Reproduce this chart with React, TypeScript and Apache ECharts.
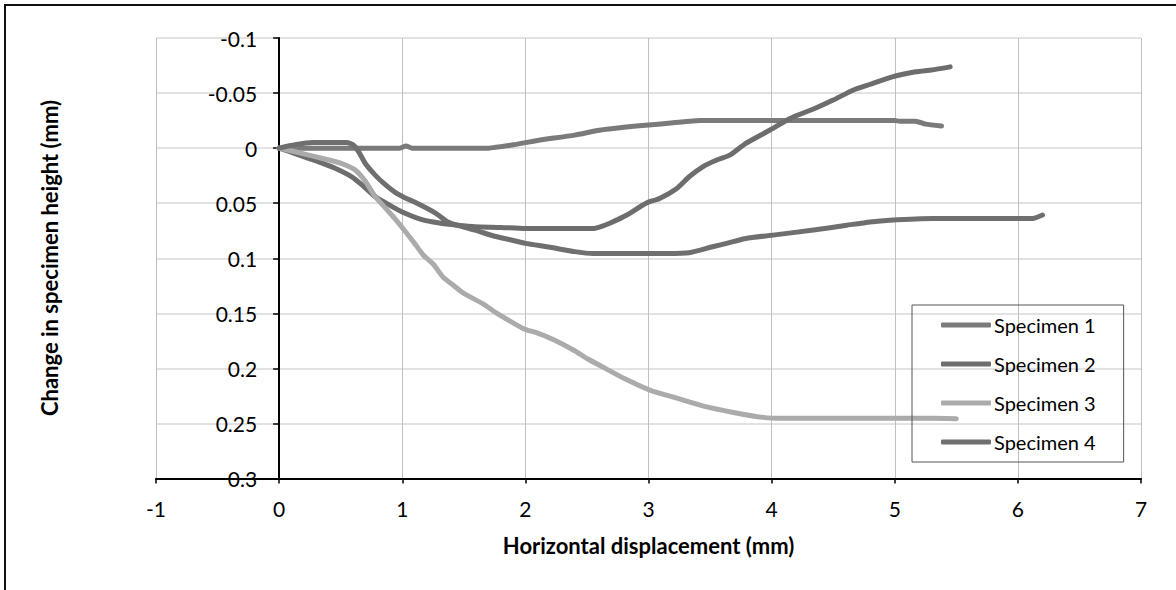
import React, { useEffect, useRef } from "react";
import * as echarts from "echarts";

const seriesNames = ["Specimen 1", "Specimen 2", "Specimen 3", "Specimen 4"];
const seriesColors = ["#7a7a7a", "#6d6d6d", "#ababab", "#6f6f6f"];

const spec1X = [0, 0.5, 0.98, 1.03, 1.08, 1.5, 1.7, 1.9, 2.1, 2.4, 2.6, 2.8, 3.0, 3.2, 3.42, 3.6, 4.0, 4.5, 5.0, 5.04, 5.17, 5.25, 5.38];
const spec1Y = [0, 0, 0, -0.002, 0, 0, 0, -0.003, -0.007, -0.0118, -0.0163, -0.019, -0.021, -0.023, -0.025, -0.025, -0.025, -0.025, -0.025, -0.0245, -0.0245, -0.0218, -0.02];

const spec2X = [0, 0.13, 0.3, 0.45, 0.59, 0.68, 0.78, 0.9, 1.0, 1.16, 1.3, 1.45, 1.59, 1.8, 2.0, 2.2, 2.4, 2.55, 2.62, 2.69, 2.82, 2.98, 3.09, 3.23, 3.33, 3.44, 3.55, 3.66, 3.79, 3.98, 4.15, 4.35, 4.5, 4.66, 4.8, 4.98, 5.17, 5.3, 5.45];
const spec2Y = [0, 0.005, 0.0115, 0.018, 0.026, 0.034, 0.044, 0.052, 0.058, 0.065, 0.068, 0.07, 0.0714, 0.072, 0.073, 0.073, 0.073, 0.073, 0.071, 0.068, 0.061, 0.05, 0.0457, 0.0366, 0.026, 0.017, 0.011, 0.0064, -0.0043, -0.016, -0.027, -0.036, -0.0436, -0.0526, -0.058, -0.0647, -0.0693, -0.071, -0.0738];

const spec3X = [0, 0.13, 0.3, 0.51, 0.62, 0.7, 0.78, 0.86, 0.94, 1.02, 1.1, 1.17, 1.25, 1.33, 1.42, 1.5, 1.65, 1.77, 1.98, 2.1, 2.23, 2.4, 2.5, 2.65, 2.8, 3.01, 3.23, 3.44, 3.69, 3.93, 4.09, 4.5, 5.0, 5.3, 5.5];
const spec3Y = [0, 0.0033, 0.008, 0.014, 0.02, 0.03, 0.044, 0.054, 0.064, 0.075, 0.0865, 0.097, 0.105, 0.117, 0.125, 0.132, 0.141, 0.15, 0.1637, 0.168, 0.174, 0.184, 0.191, 0.2, 0.209, 0.2197, 0.227, 0.234, 0.24, 0.2445, 0.2454, 0.2454, 0.2454, 0.2454, 0.2458];

const spec4X = [0, 0.13, 0.27, 0.4, 0.55, 0.6, 0.65, 0.7, 0.78, 0.86, 0.94, 1.02, 1.1, 1.27, 1.37, 1.48, 1.59, 1.75, 1.87, 2.0, 2.2, 2.4, 2.55, 2.8, 3.0, 3.15, 3.33, 3.52, 3.65, 3.79, 4.01, 4.34, 4.61, 4.8, 4.96, 5.31, 5.6, 5.9, 6.12, 6.2];
const spec4Y = [0, -0.003, -0.005, -0.005, -0.005, -0.003, 0.004, 0.014, 0.0245, 0.033, 0.04, 0.045, 0.049, 0.059, 0.067, 0.071, 0.0744, 0.08, 0.083, 0.0865, 0.09, 0.094, 0.0957, 0.0957, 0.0957, 0.0957, 0.095, 0.0896, 0.086, 0.082, 0.079, 0.0744, 0.07, 0.067, 0.0654, 0.0639, 0.0639, 0.0639, 0.0639, 0.0608];

const xTitle = "Horizontal displacement (mm)";
const yTitle = "Change in specimen height (mm)";

const FONT = "Lato, 'Open Sans', sans-serif";

function pairs(xs: number[], ys: number[]) {
  return xs.map((x, i) => [x, ys[i]]);
}

export default function App() {
  const ref = useRef<HTMLDivElement>(null);
  useEffect(() => {
    const chart = echarts.init(ref.current!, null, { renderer: "svg" });
    const allX = [spec1X, spec2X, spec3X, spec4X];
    const allY = [spec1Y, spec2Y, spec3Y, spec4Y];
    const gridLeft = 156;
    const gridRight = 35;
    const plotW = 1176 - gridLeft - gridRight;
    const zeroOffset = (plotW * 1) / 8; // distance from x=-1 to x=0
    chart.setOption({
      animation: false,
      backgroundColor: "#fff",
      textStyle: { fontFamily: FONT },
      grid: { left: gridLeft, top: 38, right: gridRight, bottom: 111.5 },
      xAxis: {
        type: "value",
        min: -1,
        max: 7,
        interval: 1,
        axisLine: { onZero: false, lineStyle: { color: "#000", width: 2 } },
        axisTick: { show: true, inside: false, length: 5, lineStyle: { color: "#000", width: 1.5 } },
        axisLabel: { color: "#000", fontSize: 21, margin: 19, fontFamily: FONT },
        splitLine: { show: true, lineStyle: { color: "#c0c0c0", width: 1 } },
      },
      yAxis: {
        type: "value",
        inverse: true,
        min: -0.1,
        max: 0.3,
        interval: 0.05,
        position: "left",
        offset: -zeroOffset,
        axisLine: { show: true, onZero: false, lineStyle: { color: "#000", width: 2 } },
        axisTick: { show: true, inside: false, length: 6, lineStyle: { color: "#000", width: 1.5 } },
        axisLabel: { color: "#000", fontSize: 21, margin: 22, fontFamily: FONT },
        splitLine: { show: true, lineStyle: { color: "#d9d9d9", width: 1.5 } },
      },
      legend: {
        orient: "vertical",
        left: 912,
        top: 305,
        padding: [10, 28, 10, 29],
        itemGap: 19,
        itemWidth: 50,
        itemHeight: 5,
        icon: "roundRect",
        borderColor: "#555",
        borderWidth: 1,
        textStyle: { color: "#000", fontSize: 20, fontFamily: FONT, padding: [0, 0, 0, -2], lineHeight: 20 },
        data: seriesNames,
      },
      series: seriesNames.map((name, i) => ({
        name,
        type: "line",
        data: pairs(allX[i], allY[i]),
        symbol: "none",
        smooth: 0.2,
        color: seriesColors[i],
        itemStyle: { color: seriesColors[i] },
        lineStyle: { color: seriesColors[i], width: 5, cap: "round", join: "round" },
      })),
      graphic: [
        {
          type: "rect",
          shape: { x: 5, y: 5, width: 1400, height: 800 },
          style: { fill: "none", stroke: "#111", lineWidth: 2 },
          silent: true,
        },
        {
          type: "text",
          x: 648.5,
          y: 545,
          style: {
            text: xTitle,
            font: `bold 22px ${FONT}`,
            fill: "#000",
            align: "center",
            verticalAlign: "middle",
          },
        },
        {
          type: "text",
          x: 49,
          y: 258,
          rotation: Math.PI / 2,
          style: {
            text: yTitle,
            font: `bold 22px ${FONT}`,
            fill: "#000",
            align: "center",
            verticalAlign: "middle",
          },
        },
      ],
    });
    return () => chart.dispose();
  }, []);
  return (
    <div
      ref={ref}
      style={{ position: "absolute", left: 0, top: 0, width: 1176, height: 590, background: "#fff" }}
    />
  );
}
